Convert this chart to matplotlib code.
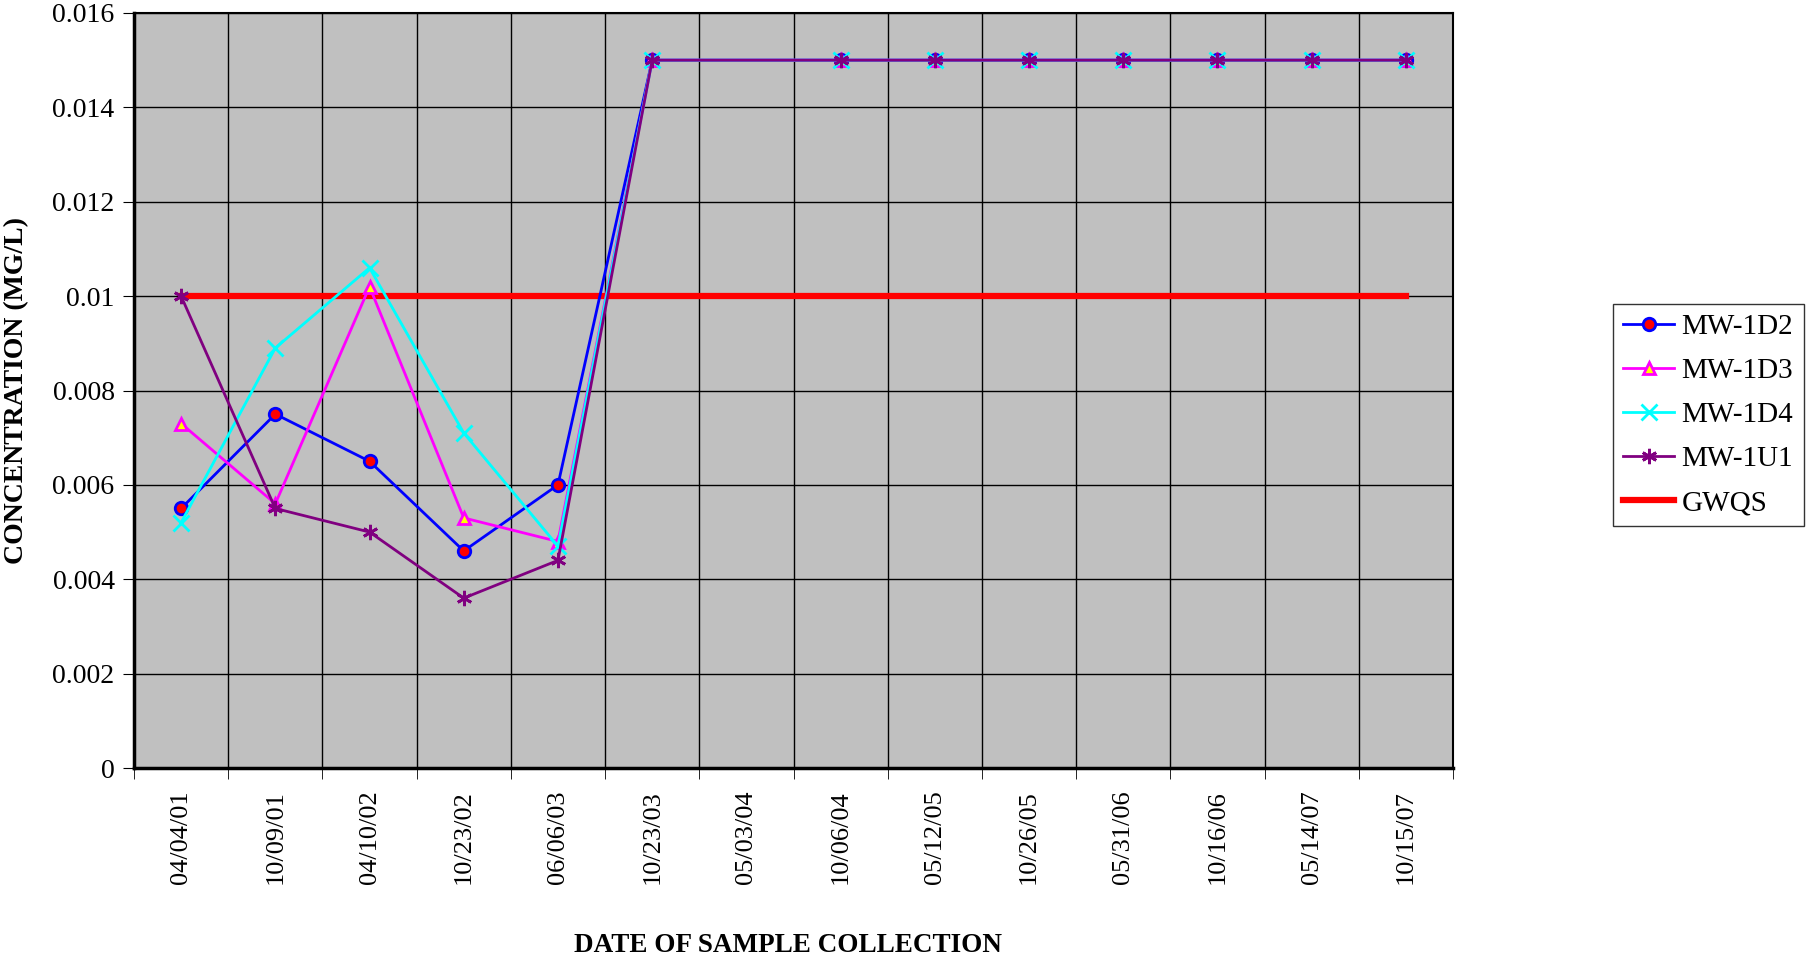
import matplotlib.pyplot as plt
import numpy as np

plt.rcParams['font.family'] = ['Liberation Serif', 'DejaVu Serif']

# sample dates (category axis)
dates = ['04/04/01', '10/09/01', '04/10/02', '10/23/02', '06/06/03', '10/23/03',
         '05/03/04', '10/06/04', '05/12/05', '10/26/05', '05/31/06', '10/16/06',
         '05/14/07', '10/15/07']

# concentrations in mg/L, None = no sample for that date
mw1d2 = [0.0055, 0.0075, 0.0065, 0.0046, 0.0060, 0.015, None,
         0.015, 0.015, 0.015, 0.015, 0.015, 0.015, 0.015]
mw1d3 = [0.0073, 0.0056, 0.0102, 0.0053, 0.0048, 0.015, None,
         0.015, 0.015, 0.015, 0.015, 0.015, 0.015, 0.015]
mw1d4 = [0.0052, 0.0089, 0.0106, 0.0071, 0.0047, 0.015, None,
         0.015, 0.015, 0.015, 0.015, 0.015, 0.015, 0.015]
mw1u1 = [0.0100, 0.0055, 0.0050, 0.0036, 0.0044, 0.015, None,
         0.015, 0.015, 0.015, 0.015, 0.015, 0.015, 0.015]
gwqs = [0.01] * len(dates)

def pts(vals):
    # drop missing samples so the line joins across the gap
    x = [i for i, v in enumerate(vals) if v is not None]
    y = [v for v in vals if v is not None]
    return x, y

fig = plt.figure(figsize=(18.12, 9.58), dpi=100)
ax = fig.add_axes([134/1812, 1 - 768/958, (1453-134)/1812, (768-13)/958])
ax.set_facecolor('#C0C0C0')

x, y = pts(mw1d2)
ax.plot(x, y, color='#0000FF', lw=2, marker='o', ms=9, mfc='#FF0000',
        mec='#0000FF', mew=2, label='MW-1D2', zorder=3)
x, y = pts(mw1d3)
ax.plot(x, y, color='#FF00FF', lw=2, marker='^', ms=9, mfc='#FFFF00',
        mec='#FF00FF', mew=2, label='MW-1D3', zorder=3)
x, y = pts(mw1d4)
ax.plot(x, y, color='#00FFFF', lw=2, marker='x', ms=11, mew=2,
        label='MW-1D4', zorder=3)
x, y = pts(mw1u1)
ax.plot(x, y, color='#800080', lw=2, marker=(6, 2, 0), ms=11, mew=2,
        label='MW-1U1', zorder=3)
ax.plot(range(len(dates)), gwqs, color='#FF0000', lw=4.5, label='GWQS', zorder=2)

ax.set_xlim(-0.5, len(dates) - 0.5)
ax.set_ylim(0, 0.016)
ax.set_yticks(np.arange(0, 0.0161, 0.002))
ax.set_yticklabels(['0', '0.002', '0.004', '0.006', '0.008', '0.01',
                    '0.012', '0.014', '0.016'], fontsize=20)
ax.set_xticks(np.arange(len(dates)))
ax.set_xticklabels(dates, rotation=90, fontsize=19)
ax.tick_params(axis='x', which='major', length=0, pad=16)
ax.set_xticks(np.arange(-0.5, len(dates)), minor=True)
ax.tick_params(axis='x', which='minor', length=8, direction='out', color='black')
ax.tick_params(axis='y', length=8, direction='out', pad=6)

ax.grid(True, axis='y', color='black', lw=1)
ax.grid(True, axis='x', which='minor', color='black', lw=1)
ax.set_axisbelow(True)
for s in ax.spines.values():
    s.set_color('black')
    s.set_linewidth(1.5)
ax.spines['left'].set_linewidth(2.5)
ax.spines['bottom'].set_linewidth(2.5)

ax.set_ylabel('CONCENTRATION (MG/L)', fontsize=20, fontweight='bold')
ax.yaxis.set_label_coords(-0.0796, 0.5)
ax.set_xlabel('DATE OF SAMPLE COLLECTION', fontsize=19.5, fontweight='bold')
ax.xaxis.set_label_coords(0.496, -0.218)

leg = fig.legend(loc='center left', bbox_to_anchor=(1613/1812, 1 - 415/958),
                 fontsize=21, frameon=True, fancybox=False, edgecolor='black',
                 handlelength=1.75, handletextpad=0.25, borderpad=0.35,
                 borderaxespad=0, labelspacing=0.6)
leg.get_frame().set_linewidth(1)

plt.savefig('out.png', dpi=100)
